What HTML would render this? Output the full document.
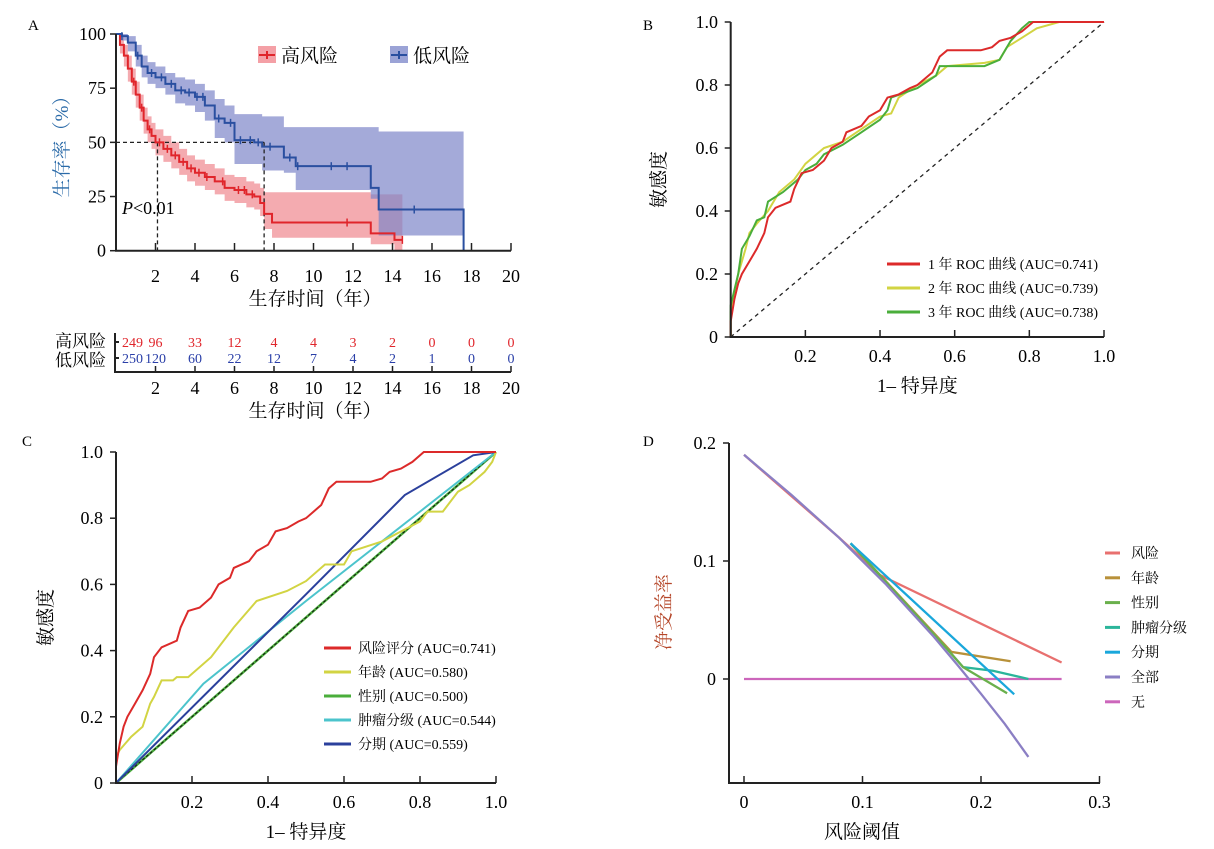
<!DOCTYPE html>
<html><head><meta charset="utf-8">
<style>
html,body{margin:0;padding:0;background:#fff;}
svg{display:block;font-family:"Liberation Serif","Noto Serif CJK SC",serif;}
</style></head>
<body>
<svg id="fig" width="1214" height="849" viewBox="0 0 1214 849" xmlns="http://www.w3.org/2000/svg">
<g id="pA"></g>
<g id="pB"></g>
<g id="pC"></g>
<g id="pD"></g>
</svg>
<script>
// ===== Panel A data =====
const kmHighT = [0,0.2,0.4,0.6,0.8,1.0,1.2,1.4,1.6,1.8,2.0,2.4,2.8,3.2,3.6,4.0,4.5,5.0,5.5,6.0,6.6,7.0,7.3,7.5,7.9,12.9,14.1,14.5];
const kmHighS = [100,95,90,84,78,72,66,60,56,53,50,47,44,41,38,36,34,32,29,28,26,25,22,17,13,8,5,5];
const kmHighHi = [100,99,95,90,84,78,72,66,62,59,56,53,50,47,44,42,40,38,35,34,32,31,29,27,27,26,26,26];
const kmHighLo = [100,91,85,78,72,66,60,54,50,47,44,41,38,35,32,30,28,26,23,22,20,19,16,10,6,3,0,0];
const kmLowT = [0,0.3,0.6,1.0,1.3,1.6,2.0,2.5,3.0,3.5,4.0,4.5,5.0,5.5,6.0,7.0,7.4,8.5,9.1,12.9,13.3,17.6];
const kmLowS = [100,99,96,90,85,82,80,77,74,73,71,67,61,59,51,50,48,43,39,29,19,0];
const kmLowHi = [100,100,99,95,90,87,85,82,80,79,77,74,70,67,63,63,62,57,57,57,55,55];
const kmLowLo = [100,97,92,85,80,77,75,72,68,67,64,60,52,50,40,40,37,36,28,24,7,7];
const censHighT = [0.9,1.3,1.7,2.2,2.6,3.0,3.4,3.8,4.2,4.6,5.4,6.2,6.5,6.9,11.7,14.5];
const censLowT = [0.3,1.1,1.8,2.3,2.8,3.3,3.7,4.1,4.4,5.2,5.8,6.3,6.8,7.2,7.8,8.8,9.2,10.9,11.7,15.1];
const atRiskTimes = [0,2,4,6,8,10,12,14,16,18,20];
const atRiskHigh = [249,96,33,12,4,4,3,2,0,0,0];
const atRiskLow = [250,120,60,22,12,7,4,2,1,0,0];
const kmXTicks = [2,4,6,8,10,12,14,16,18,20];
const kmYTicks = [0,25,50,75,100];
// ===== Panel B data =====
const rocB1x = [0,0,0.01,0.02,0.03,0.05,0.07,0.09,0.1,0.12,0.16,0.17,0.19,0.22,0.25,0.27,0.3,0.31,0.35,0.37,0.4,0.42,0.45,0.48,0.5,0.52,0.54,0.56,0.58,0.67,0.7,0.72,0.75,0.78,0.81,1];
const rocB1y = [0,0.05,0.12,0.17,0.2,0.24,0.28,0.33,0.38,0.41,0.43,0.47,0.52,0.53,0.56,0.6,0.62,0.65,0.67,0.7,0.72,0.76,0.77,0.79,0.8,0.82,0.84,0.89,0.91,0.91,0.92,0.94,0.95,0.97,1.0,1.0];
const rocB2x = [0,0,0.02,0.04,0.05,0.07,0.1,0.13,0.17,0.2,0.23,0.25,0.3,0.35,0.4,0.43,0.45,0.5,0.55,0.58,0.68,0.72,0.74,0.78,0.82,0.88,1];
const rocB2y = [0,0.08,0.2,0.28,0.33,0.36,0.4,0.46,0.5,0.55,0.58,0.6,0.62,0.66,0.7,0.71,0.76,0.8,0.83,0.86,0.87,0.88,0.92,0.95,0.98,1.0,1.0];
const rocB3x = [0,0,0.02,0.03,0.05,0.07,0.09,0.1,0.14,0.18,0.2,0.23,0.25,0.3,0.35,0.4,0.42,0.43,0.5,0.55,0.56,0.68,0.72,0.73,0.75,0.78,0.8,1];
const rocB3y = [0,0.1,0.2,0.28,0.32,0.37,0.38,0.43,0.46,0.5,0.53,0.55,0.58,0.61,0.65,0.69,0.72,0.76,0.79,0.83,0.86,0.86,0.88,0.9,0.94,0.98,1.0,1.0];
const rocTicks = [0.2,0.4,0.6,0.8,1.0];
const rocYTicks = [0,0.2,0.4,0.6,0.8,1.0];
// ===== Panel C data =====
const rocAgeX = [0,0,0.01,0.04,0.07,0.09,0.1,0.12,0.15,0.16,0.19,0.25,0.31,0.37,0.45,0.5,0.55,0.6,0.62,0.7,0.8,0.82,0.86,0.9,0.93,0.97,0.99,1];
const rocAgeY = [0,0.08,0.1,0.14,0.17,0.24,0.26,0.31,0.31,0.32,0.32,0.38,0.47,0.55,0.58,0.61,0.66,0.66,0.7,0.73,0.79,0.82,0.82,0.88,0.9,0.94,0.97,1];
const rocSexX = [0,1];
const rocSexY = [0,1];
const rocGradeX = [0,0.23,0.5,0.8,1];
const rocGradeY = [0,0.3,0.55,0.82,1];
const rocStageX = [0,0.5,0.76,0.94,1];
const rocStageY = [0,0.57,0.87,0.99,1];
// ===== Panel D data =====
const dcaAllX = [0,0.04,0.08,0.1,0.12,0.14,0.16,0.18,0.2,0.22,0.24];
const dcaAllY = [0.19,0.156,0.12,0.10,0.08,0.058,0.036,0.012,-0.0125,-0.038,-0.066];
const dcaRiskX = [0,0.08,0.115,0.268];
const dcaRiskY = [0.19,0.12,0.088,0.014];
const dcaAgeX = [0.09,0.175,0.225];
const dcaAgeY = [0.115,0.023,0.015];
const dcaSexX = [0.09,0.17,0.185,0.222];
const dcaSexY = [0.115,0.027,0.01,-0.012];
const dcaGradeX = [0.09,0.17,0.185,0.21,0.24];
const dcaGradeY = [0.115,0.027,0.01,0.007,0.0];
const dcaStageX = [0.09,0.228];
const dcaStageY = [0.115,-0.013];
const dcaNoneX = [0,0.268];
const dcaNoneY = [0,0];
const dcaXTicks = [0,0.1,0.2,0.3];
const dcaYTicks = [0,0.1,0.2];

const NS="http://www.w3.org/2000/svg";
function mk(parent,tag,attrs,text){const e=document.createElementNS(NS,tag);for(const k in attrs)e.setAttribute(k,attrs[k]);if(text!==undefined)e.textContent=text;parent.appendChild(e);return e;}
function lin(d0,d1,r0,r1){return v=>r0+(v-d0)/(d1-d0)*(r1-r0);}
function poly(xs,ys,X,Y){return xs.map((v,i)=>(i?'L':'M')+X(v).toFixed(1)+','+Y(ys[i]).toFixed(1)).join('');}
function step(xs,ys,X,Y){let d='M'+X(xs[0])+','+Y(ys[0]);for(let i=1;i<xs.length;i++){d+='L'+X(xs[i])+','+Y(ys[i-1])+'L'+X(xs[i])+','+Y(ys[i]);}return d;}
function stepAt(xs,ys,t){let v=ys[0];for(let i=0;i<xs.length;i++){if(xs[i]<=t)v=ys[i];}return v;}
function band(xs,hi,lo,X,Y){let d='M'+X(xs[0])+','+Y(hi[0]);for(let i=1;i<xs.length;i++){d+='L'+X(xs[i])+','+Y(hi[i-1])+'L'+X(xs[i])+','+Y(hi[i]);}
 for(let i=xs.length-1;i>0;i--){d+='L'+X(xs[i])+','+Y(lo[i])+'L'+X(xs[i])+','+Y(lo[i-1]);}return d+'Z';}

// ---------- Panel A ----------
(function(){
const g=document.getElementById('pA');
const X=lin(0,20,116,511), Y=lin(0,100,250.7,34);
let e;
e=mk(g,'text',{x:28,y:30,'font-size':15},'A');


e=mk(g,'path',{d:band(kmHighT,kmHighHi,kmHighLo,X,Y),fill:'#f08f96','fill-opacity':0.75,stroke:'none'});


e=mk(g,'path',{d:band(kmLowT,kmLowHi,kmLowLo,X,Y),fill:'#7d86c9','fill-opacity':0.7,stroke:'none'});


e=mk(g,'path',{d:`M${X(0)},${Y(50)}L${X(7.5)},${Y(50)}M${X(2.1)},${Y(50)}L${X(2.1)},${Y(0)}M${X(7.5)},${Y(50)}L${X(7.5)},${Y(0)}`,stroke:'#222','stroke-width':1.3,'stroke-dasharray':'4,3',fill:'none'});


e=mk(g,'path',{d:step(kmHighT,kmHighS,X,Y),stroke:'#e0252b','stroke-width':2,fill:'none'});


e=mk(g,'path',{d:step(kmLowT,kmLowS,X,Y),stroke:'#2a4fa0','stroke-width':2,fill:'none'});


censHighT.forEach(t=>{const v=stepAt(kmHighT,kmHighS,t);
 const c=mk(g,'path',{d:`M${X(t)},${Y(v)-4}L${X(t)},${Y(v)+4}`,stroke:'#e0252b','stroke-width':1.5});
 
 });
censLowT.forEach(t=>{const v=stepAt(kmLowT,kmLowS,t);
 const c=mk(g,'path',{d:`M${X(t)},${Y(v)-4}L${X(t)},${Y(v)+4}`,stroke:'#2a4fa0','stroke-width':1.5});
 
 });
e=mk(g,'path',{d:`M116,34L116,250.7L511,250.7`,stroke:'#222','stroke-width':2,fill:'none'});


kmYTicks.forEach(v=>{mk(g,'line',{x1:110,x2:116,y1:Y(v),y2:Y(v),stroke:'#222','stroke-width':1.5});
 const t=mk(g,'text',{x:106,y:Y(v)+6,'text-anchor':'end','font-size':18},v);
 
 });
kmXTicks.forEach(v=>{mk(g,'line',{x1:X(v),x2:X(v),y1:250.7,y2:243,stroke:'#222','stroke-width':1.5});
 const t=mk(g,'text',{x:X(v),y:282,'text-anchor':'middle','font-size':18},v);
 
 });
e=mk(g,'text',{x:122,y:214,'font-size':18},'');
e.innerHTML='<tspan font-style="italic">P</tspan>&lt;0.01';


e=mk(g,'text',{x:68,y:142,'font-size':19,fill:'#2a6aa8','text-anchor':'middle',transform:'rotate(-90 68 142)'},'生存率（%）');


e=mk(g,'text',{x:315,y:305,'font-size':19,'text-anchor':'middle'},'生存时间（年）');


e=mk(g,'rect',{x:258,y:46,width:18,height:17,fill:'#f4a0a6'});


mk(g,'path',{d:'M259,55L275,55M267,51L267,59',stroke:'#e0252b','stroke-width':2});
e=mk(g,'text',{x:281,y:62,'font-size':19},'高风险');


e=mk(g,'rect',{x:390,y:46,width:18,height:17,fill:'#9ba3d6'});


mk(g,'path',{d:'M391,55L407,55M399,51L399,59',stroke:'#2a4fa0','stroke-width':2});
e=mk(g,'text',{x:413,y:62,'font-size':19},'低风险');


e=mk(g,'path',{d:'M115,333L115,372L511,372M115,342L119,342M115,358L119,358',stroke:'#222','stroke-width':2,fill:'none'});


e=mk(g,'text',{x:106,y:347,'font-size':17,'text-anchor':'end'},'高风险');


e=mk(g,'text',{x:106,y:366,'font-size':17,'text-anchor':'end'},'低风险');


atRiskTimes.forEach((t,i)=>{
 const x=i===0?122:X(t), anc=i===0?'start':'middle';
 const a=mk(g,'text',{x:x,y:347,'font-size':14,fill:'#e0252b','text-anchor':anc},atRiskHigh[i]);
 
 
 const b=mk(g,'text',{x:x,y:363,'font-size':14,fill:'#2a3fa8','text-anchor':anc},atRiskLow[i]);
 
 
 if(i>0){mk(g,'line',{x1:X(t),x2:X(t),y1:372,y2:366,stroke:'#222','stroke-width':1.5});
 const c=mk(g,'text',{x:X(t),y:394,'font-size':18,'text-anchor':'middle'},t);
 
 }
});
e=mk(g,'text',{x:315,y:417,'font-size':19,'text-anchor':'middle'},'生存时间（年）');


})();

function rocAxes(g,X,Y,x0,x1,y0,y1,labX,yTitleX,xTitleY){
 mk(g,'path',{d:`M${x0},${y1}L${x0},${y0}L${x1},${y0}`,stroke:'#222','stroke-width':2,fill:'none'});
 rocYTicks.forEach(v=>{mk(g,'line',{x1:x0-6,x2:x0,y1:Y(v),y2:Y(v),stroke:'#222','stroke-width':1.5});
  const t=mk(g,'text',{x:labX,y:Y(v)+6,'text-anchor':'end','font-size':18},v===0?'0':v.toFixed(1));
  
  });
 rocTicks.forEach(v=>{mk(g,'line',{x1:X(v),x2:X(v),y1:y0,y2:y0-7,stroke:'#222','stroke-width':1.5});
  const t=mk(g,'text',{x:X(v),y:y0+25,'text-anchor':'middle','font-size':18},v.toFixed(1));
  
  });
 const cy=(y0+y1)/2;
 let e=mk(g,'text',{x:yTitleX,y:cy,'font-size':19,'text-anchor':'middle',transform:`rotate(-90 ${yTitleX} ${cy})`},'敏感度');
 
 
 e=mk(g,'text',{x:(x0+x1)/2,y:xTitleY,'font-size':19,'text-anchor':'middle'},'1– 特异度');
 
 
}
function legendRow(g,x1,x2,tx,y,color,label,name){
 mk(g,'line',{x1:x1,x2:x2,y1:y,y2:y,stroke:color,'stroke-width':3});
 const t=mk(g,'text',{x:tx,y:y+5,'font-size':14},label);
 
 
}

// ---------- Panel B ----------
(function(){
const g=document.getElementById('pB');
const X=lin(0,1,730.7,1104), Y=lin(0,1,337,22);
let e=mk(g,'text',{x:643,y:30,'font-size':15},'B');


e=mk(g,'path',{d:poly([0,1],[0,1],X,Y),stroke:'#222','stroke-width':1.3,'stroke-dasharray':'4,4',fill:'none'});


e=mk(g,'path',{d:poly(rocB2x,rocB2y,X,Y),stroke:'#d2d443','stroke-width':2,fill:'none'});


e=mk(g,'path',{d:poly(rocB3x,rocB3y,X,Y),stroke:'#4aae3b','stroke-width':2,fill:'none'});


e=mk(g,'path',{d:poly(rocB1x,rocB1y,X,Y),stroke:'#dc2a2a','stroke-width':2,fill:'none'});


rocAxes(g,X,Y,730.7,1104,337,22,718,665,392);
legendRow(g,887,920,928,264,'#dc2a2a','1 年 ROC 曲线 (AUC=0.741)','legend-roc-1-year');
legendRow(g,887,920,928,288,'#d2d443','2 年 ROC 曲线 (AUC=0.739)','legend-roc-2-year');
legendRow(g,887,920,928,312,'#4aae3b','3 年 ROC 曲线 (AUC=0.738)','legend-roc-3-year');
})();

// ---------- Panel C ----------
(function(){
const g=document.getElementById('pC');
const X=lin(0,1,116,496), Y=lin(0,1,783,452);
let e=mk(g,'text',{x:22,y:446,'font-size':15},'C');


e=mk(g,'path',{d:poly(rocSexX,rocSexY,X,Y),stroke:'#4aae3b','stroke-width':2.5,fill:'none'});


e=mk(g,'path',{d:poly([0,1],[0,1],X,Y),stroke:'#111','stroke-width':1,'stroke-dasharray':'3,2',fill:'none'});


e=mk(g,'path',{d:poly(rocGradeX,rocGradeY,X,Y),stroke:'#4cc4cc','stroke-width':2,fill:'none'});


e=mk(g,'path',{d:poly(rocStageX,rocStageY,X,Y),stroke:'#2b409c','stroke-width':2,fill:'none'});


e=mk(g,'path',{d:poly(rocAgeX,rocAgeY,X,Y),stroke:'#d2d443','stroke-width':2,fill:'none'});


e=mk(g,'path',{d:poly(rocB1x,rocB1y,X,Y),stroke:'#dc2a2a','stroke-width':2,fill:'none'});


rocAxes(g,X,Y,116,496,783,452,103,52,838);
legendRow(g,324,351,358,648,'#dc2a2a','风险评分 (AUC=0.741)','legend-risk-score');
legendRow(g,324,351,358,672,'#d2d443','年龄 (AUC=0.580)','legend-age');
legendRow(g,324,351,358,696,'#4aae3b','性别 (AUC=0.500)','legend-sex');
legendRow(g,324,351,358,720,'#4cc4cc','肿瘤分级 (AUC=0.544)','legend-grade');
legendRow(g,324,351,358,744,'#2b409c','分期 (AUC=0.559)','legend-stage');
})();

// ---------- Panel D ----------
(function(){
const g=document.getElementById('pD');
const X=lin(0,0.1,744,862.5), Y=lin(0,0.1,679,561);
let e=mk(g,'text',{x:643,y:446,'font-size':15},'D');


const series=[[dcaNoneX,dcaNoneY,'#cc66bb','dca-none'],[dcaRiskX,dcaRiskY,'#e8706f','dca-risk'],[dcaAgeX,dcaAgeY,'#b8913a','dca-age'],[dcaGradeX,dcaGradeY,'#2bb59a','dca-grade'],[dcaSexX,dcaSexY,'#6ab04c','dca-sex'],[dcaStageX,dcaStageY,'#1aa7db','dca-stage'],[dcaAllX,dcaAllY,'#8b7fc4','dca-all']];
series.forEach(s=>{const p=mk(g,'path',{d:poly(s[0],s[1],X,Y),stroke:s[2],'stroke-width':2.3,fill:'none'});
 
 });
mk(g,'path',{d:'M729,443L729,783L1100,783',stroke:'#222','stroke-width':2,fill:'none'});
dcaYTicks.forEach(v=>{mk(g,'line',{x1:723,x2:729,y1:Y(v),y2:Y(v),stroke:'#222','stroke-width':1.5});
 const t=mk(g,'text',{x:716,y:Y(v)+6,'text-anchor':'end','font-size':18},v);
 
 });
dcaXTicks.forEach(v=>{mk(g,'line',{x1:X(v),x2:X(v),y1:783,y2:776,stroke:'#222','stroke-width':1.5});
 const t=mk(g,'text',{x:X(v),y:808,'text-anchor':'middle','font-size':18},v);
 
 });
e=mk(g,'text',{x:670,y:612,'font-size':19,fill:'#b5472a','text-anchor':'middle',transform:'rotate(-90 670 612)'},'净受益率');


e=mk(g,'text',{x:862,y:838,'font-size':19,'text-anchor':'middle'},'风险阈值');


const leg=[['风险','#e8706f','legend-risk'],['年龄','#b8913a','legend-age'],['性别','#6ab04c','legend-sex'],['肿瘤分级','#2bb59a','legend-grade'],['分期','#1aa7db','legend-stage'],['全部','#8b7fc4','legend-all'],['无','#cc66bb','legend-none']];
leg.forEach((l,i)=>legendRow(g,1105,1120,1131,553+i*24.8,l[1],l[0],l[2]));
})();
</script>
</body></html>
